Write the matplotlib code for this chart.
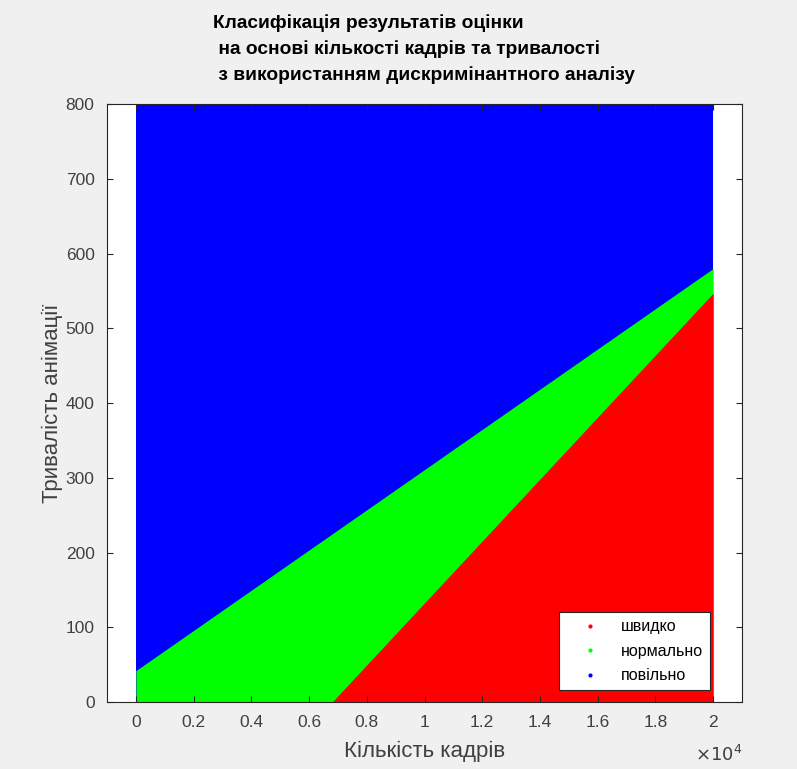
import matplotlib.pyplot as plt
from matplotlib.ticker import FuncFormatter

plt.rcParams['font.family'] = ['Liberation Sans', 'DejaVu Sans']

# Межі областей класифікації (кадри, тривалість)
x_range = [0, 20000]
y_top = [800, 800]
mezha_povilno = [42, 580]          # між "нормально" і "повільно"
x_shvydko = [6800, 20000]           # між "швидко" і "нормально"
mezha_shvydko = [0, 547]

kolory = {'швидко': '#ff0000', 'нормально': '#00ff00', 'повільно': '#0000ff'}
x_ticks = [0, 2000, 4000, 6000, 8000, 10000, 12000, 14000, 16000, 18000, 20000]
y_ticks = [0, 100, 200, 300, 400, 500, 600, 700, 800]

fig = plt.figure(figsize=(7.97, 7.69), dpi=100, facecolor='#f0f0f0')
ax = fig.add_axes([0.1343, 0.0871, 0.7967, 0.7776])
ax.set_facecolor('white')

# області
ax.fill_between(x_range, 0, y_top, color=kolory['повільно'], lw=0)
ax.fill_between(x_range, 0, mezha_povilno, color=kolory['нормально'], lw=0)
ax.fill_between(x_shvydko, 0, mezha_shvydko, color=kolory['швидко'], lw=0)

# легенда - точки як у matlab
for nazva, kolir in kolory.items():
    ax.plot([], [], '.', color=kolir, markersize=4, label=nazva)
leg = ax.legend(loc='lower right', bbox_to_anchor=(0.955, 0.014), fontsize=11.5,
                frameon=True, fancybox=False, edgecolor='#262626',
                facecolor='white', framealpha=1,
                handlelength=2.9, handletextpad=0.5, borderpad=0.45,
                labelspacing=0.6, borderaxespad=0.2)
leg.get_frame().set_linewidth(0.8)

ax.set_xlim(-1000, 21000)
ax.set_ylim(0, 800)
ax.set_xticks(x_ticks)
ax.set_yticks(y_ticks)
ax.xaxis.set_major_formatter(FuncFormatter(lambda v, p: '%g' % (v / 1e4)))
ax.tick_params(direction='in', top=True, right=True, labelsize=12.5,
               colors='#262626', labelcolor='#404040', length=4, pad=9)
for s in ax.spines.values():
    s.set_color('#262626')
    s.set_linewidth(0.8)

ax.set_xlabel('Кількість кадрів', fontsize=16, color='#404040', labelpad=8)
ax.set_ylabel('Тривалість анімації', fontsize=16, color='#404040', labelpad=2)
ax.text(1.0, -0.088, r'$\times10^4$', transform=ax.transAxes, ha='right',
        va='center', fontsize=13, color='#404040')

fig.text(0.267, 0.981, 'Класифікація результатів оцінки\n'
         ' на основі кількості кадрів та тривалості\n'
         ' з використанням дискримінантного аналізу',
         ha='left', va='top', fontsize=13.8, fontweight='bold',
         linespacing=1.6, color='black')

plt.savefig('out.png', dpi=100, facecolor=fig.get_facecolor())
